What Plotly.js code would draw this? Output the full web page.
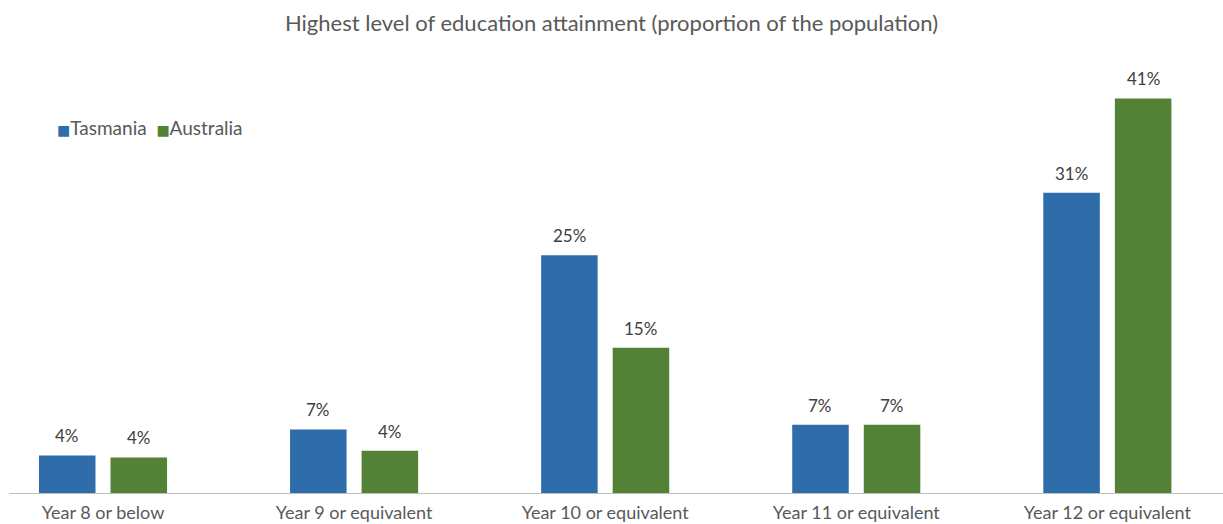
<!DOCTYPE html>
<html>
<head>
<meta charset="utf-8">
<script src="https://cdn.plot.ly/plotly-3.0.1.min.js"></script>
<style>
  html, body { margin: 0; padding: 0; background: #ffffff; }
  #chart { width: 1223px; height: 524px; }
</style>
</head>
<body>
<div id="chart"></div>
<script>
// ---- Data ----
const categories = ["Year 8 or below", "Year 9 or equivalent", "Year 10 or equivalent", "Year 11 or equivalent", "Year 12 or equivalent"];
const seriesNames = ["Tasmania", "Australia"];
const tasmania = [3.9, 6.6, 24.7, 7.1, 31.2];
const australia = [3.7, 4.4, 15.1, 7.1, 41.0];
const chartTitle = "Highest level of education attainment (proportion of the population)";

// ---- Styles ----
const colors = ["#2E6DAA", "#538135"];
const FONT = "Lato, 'Open Sans', 'DejaVu Sans', sans-serif";

const seriesValues = [tasmania, australia];

const traces = seriesValues.map((vals, k) => ({
  type: "bar",
  name: seriesNames[k],
  x: categories,
  y: vals,
  marker: { color: colors[k], line: { width: 0 } },
  hoverinfo: "skip",
  showlegend: false
}));

// data labels above bars
const annotations = [];
const shift = [-35.8, 35.8];
seriesValues.forEach((vals, k) => {
  vals.forEach((v, i) => {
    annotations.push({
      x: categories[i], y: v, xref: "x", yref: "y",
      xshift: shift[k], yshift: 7,
      yanchor: "bottom", xanchor: "center",
      text: Math.round(v) + "%",
      showarrow: false,
      font: { family: FONT, size: 17, color: "#404040" }
    });
  });
});

// legend (inline, square markers + names)
annotations.push({
  xref: "paper", yref: "paper", x: 0.0375, y: 0.843,
  xanchor: "left", yanchor: "middle", showarrow: false,
  text: seriesNames.map((n, k) =>
    '<span style="color:' + colors[k] + ';font-family:DejaVu Sans;font-size:14px">■</span>' + n).join("  "),
  font: { family: FONT, size: 19, color: "#595959" }
});

const layout = {
  width: 1223, height: 524,
  margin: { l: 9, r: 0, t: 60, b: 31, pad: 0 },
  paper_bgcolor: "#ffffff",
  plot_bgcolor: "#ffffff",
  title: {
    text: chartTitle,
    font: { family: FONT, size: 22, color: "#595959" },
    x: 0.5, xref: "container", xanchor: "center",
    y: 0.955, yref: "container", yanchor: "middle"
  },
  barmode: "group",
  bargap: 0.43,
  bargroupgap: 0.21,
  showlegend: false,
  xaxis: {
    type: "category",
    range: [-0.3744, 4.4606],
    showline: true, linecolor: "#BFBFBF", linewidth: 1,
    showgrid: false, zeroline: false, ticks: "",
    ticklabelstandoff: 3,
    tickfont: { family: FONT, size: 18, color: "#595959" },
    fixedrange: true
  },
  yaxis: {
    range: [0, 45],
    visible: false,
    showgrid: false, zeroline: false,
    fixedrange: true
  },
  annotations: annotations
};

Plotly.newPlot("chart", traces, layout, { displayModeBar: false, staticPlot: true });
</script>
</body>
</html>
